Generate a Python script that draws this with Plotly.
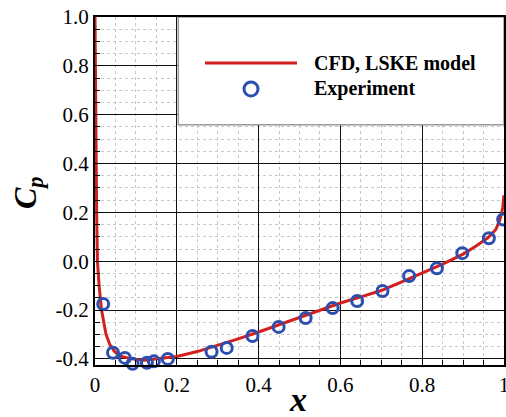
import plotly.graph_objects as go

# CFD (LSKE model) curve
cfd_x = [0.0, 0.001, 0.002, 0.004, 0.006, 0.010, 0.016, 0.022, 0.027, 0.036, 0.048, 0.065,
         0.09, 0.12, 0.15, 0.20, 0.25, 0.30, 0.35, 0.40, 0.45, 0.50, 0.55, 0.60, 0.65,
         0.70, 0.75, 0.80, 0.85, 0.90, 0.93, 0.96, 0.98, 0.99, 0.997, 1.0]
cfd_cp = [1.0, 0.70, 0.45, 0.20, 0.0, -0.10, -0.20, -0.26, -0.30, -0.34, -0.37, -0.39,
          -0.40, -0.405, -0.40, -0.39, -0.37, -0.345, -0.318, -0.29, -0.26, -0.23, -0.20, -0.171, -0.146,
          -0.12, -0.085, -0.05, -0.012, 0.029, 0.06, 0.095, 0.13, 0.17, 0.22, 0.27]

# Experiment
exp_x = [0.020, 0.044, 0.073, 0.092, 0.127, 0.144, 0.178, 0.285, 0.322, 0.385, 0.449,
         0.515, 0.581, 0.641, 0.703, 0.768, 0.836, 0.898, 0.963, 0.998]
exp_cp = [-0.175, -0.375, -0.396, -0.42, -0.416, -0.41, -0.40, -0.371, -0.355, -0.306, -0.269,
          -0.233, -0.192, -0.163, -0.122, -0.061, -0.029, 0.033, 0.094, 0.171]

x_tickvals = [0, 0.2, 0.4, 0.6, 0.8, 1.0]
x_ticktext = ["0", "0.2", "0.4", "0.6", "0.8", "1"]
y_tickvals = [-0.4, -0.2, 0.0, 0.2, 0.4, 0.6, 0.8, 1.0]
y_ticktext = ["-0.4", "-0.2", "0.0", "0.2", "0.4", "0.6", "0.8", "1.0"]

legend_names = ["CFD, LSKE model", "Experiment"]

RED = "#d21f1f"
BLUE = "#2b4fae"
FONT = "Liberation Serif"

fig = go.Figure()
fig.add_trace(go.Scatter(x=cfd_x, y=cfd_cp, mode="lines", name=legend_names[0],
                         line=dict(color=RED, width=3), showlegend=False, cliponaxis=True))
fig.add_trace(go.Scatter(x=exp_x, y=exp_cp, mode="markers", name=legend_names[1],
                         marker=dict(symbol="circle-open", size=11, color=BLUE,
                                     line=dict(color=BLUE, width=3)),
                         showlegend=False, cliponaxis=False))

W, H = 506, 417
L, R, T, B = 95, 2, 17, 52
pw, ph = W - L - R, H - T - B

def px(xp):
    return (xp - L) / pw

def py(yp):
    return 1 - (yp - T) / ph

# legend box (drawn above grid, below data)
fig.add_shape(type="rect", xref="x", yref="y", x0=0.2037, x1=1.0, y0=0.559, y1=1.0,
              fillcolor="white", line=dict(color="#9a9a9a", width=1.5), layer="between")
fig.add_shape(type="line", xref="paper", yref="paper", x0=px(205), x1=px(297), y0=py(63), y1=py(63),
              line=dict(color=RED, width=3))
fig.add_shape(type="circle", xref="paper", yref="paper", xsizemode="pixel", ysizemode="pixel",
              xanchor=px(251), yanchor=py(89), x0=-7, x1=7, y0=-7, y1=7,
              line=dict(color=BLUE, width=3))
fig.add_annotation(xref="paper", yref="paper", x=px(312), y=py(63), xanchor="left", yanchor="middle",
                   text="<b>" + legend_names[0] + "</b>", showarrow=False,
                   font=dict(family=FONT, size=20, color="black"))
fig.add_annotation(xref="paper", yref="paper", x=px(312), y=py(89), xanchor="left", yanchor="middle",
                   text="<b>" + legend_names[1] + "</b>", showarrow=False,
                   font=dict(family=FONT, size=20, color="black"))

# axis titles
fig.add_annotation(xref="paper", yref="paper", x=px(27), y=py(193), xanchor="center", yanchor="middle",
                   text="<b><i>C<sub>p</sub></i></b>", textangle=-90, showarrow=False,
                   font=dict(family=FONT, size=32, color="black"))
fig.add_annotation(xref="paper", yref="paper", x=px(298), y=py(399), xanchor="center", yanchor="middle",
                   text="<b><i>x</i></b>", showarrow=False,
                   font=dict(family=FONT, size=34, color="black"))

axis_common = dict(
    showline=True, linecolor="black", linewidth=2, mirror=True,
    showgrid=True, gridcolor="#111111", gridwidth=1.3,
    ticks="inside", ticklen=8, tickwidth=1.3, tickcolor="black",
    zeroline=False, ticklabeloverflow="allow",
    tickfont=dict(family=FONT, size=21, color="black"),
)

fig.update_xaxes(range=[0, 1.0], tickvals=x_tickvals, ticktext=x_ticktext,
                 minor=dict(dtick=0.05, tick0=0, showgrid=True, gridcolor="#c8c8c8", griddash="dot",
                            gridwidth=1, ticks="inside", ticklen=5, tickcolor="black"),
                 **axis_common)
fig.update_yaxes(range=[-0.425, 1.0], tickvals=y_tickvals, ticktext=y_ticktext,
                 minor=dict(dtick=0.05, tick0=0, showgrid=True, gridcolor="#c8c8c8", griddash="dot",
                            gridwidth=1, ticks="inside", ticklen=5, tickcolor="black"),
                 **axis_common)

fig.update_layout(width=W, height=H, margin=dict(l=L, r=R, t=T, b=B, autoexpand=False),
                  paper_bgcolor="white", plot_bgcolor="white", showlegend=False)

fig.write_html("out.html")
